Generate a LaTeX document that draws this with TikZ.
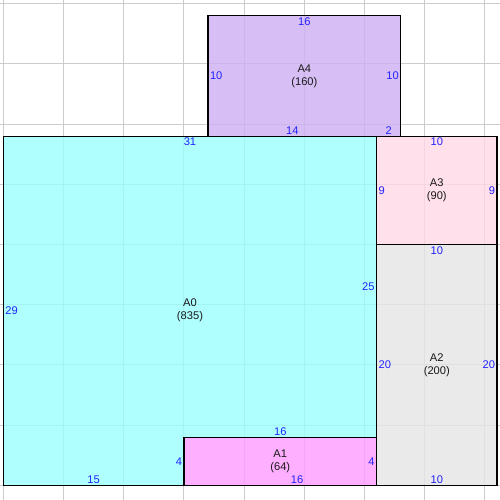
\documentclass[tikz,border=0pt]{standalone}
\usepackage{fontspec}
\setmainfont{Liberation Sans}
\usepackage{tikz}

\definecolor{lenblue}{RGB}{35,35,255}
\definecolor{roomcyan}{RGB}{156,255,255}
\definecolor{roommagenta}{RGB}{255,156,255}
\definecolor{roomgray}{RGB}{229,229,229}
\definecolor{roompink}{RGB}{255,217,231}
\definecolor{roomlilac}{RGB}{206,174,243}

\begin{document}
\begin{tikzpicture}[x=.3cm, y=.3cm,
    len/.style={text=lenblue, inner sep=1.2pt, font=\fontsize{7.9}{9.2}\selectfont},
    room/.style={align=center, inner sep=0pt, text=black!90, font=\fontsize{7.9}{9.2}\selectfont},
    wall/.style={draw=black, line width=.8pt},
    area/.style={fill opacity=.8}]
             \useasboundingbox (-0.28, -1.22) rectangle (41.25, 40.31);
             \fill[white] (-0.28, -1.22) rectangle (41.25, 40.31);
             \draw[black!20, line width=.7pt, step=5] (-1, -2) grid (42, 41);

             % A4
             \fill[roomlilac, area] (17, 29) rectangle (33, 39);
             \draw[wall] (17, 29) rectangle (33, 39);
             % A3
             \fill[roompink, area] (31, 20) rectangle (41, 29);
             \draw[wall] (31, 20) rectangle (41, 29);
             % A2
             \fill[roomgray, area] (31, 0) rectangle (41, 20);
             \draw[wall] (31, 0) rectangle (41, 20);
             % A1
             \fill[roommagenta, area] (15, 0) rectangle (31, 4);
             \draw[wall] (15, 0) rectangle (31, 4);
             % A0
             \fill[roomcyan, area] (0, 0) -- (0, 29) -- (31, 29) -- (31, 4) -- (15, 4) -- (15, 0) -- cycle;
             \draw[wall] (0, 0) -- (0, 29) -- (31, 29) -- (31, 4) -- (15, 4) -- (15, 0) -- cycle;

             % names
             \node[room] (a0) at (15.5, 14.5) {A0\\(835)};
             \node[room] (a1) at (23, 2) {A1\\(64)};
             \node[room] (a2) at (36, 10) {A2\\(200)};
             \node[room] (a3) at (36, 24.5) {A3\\(90)};
             \node[room] (a4) at (25, 34) {A4\\(160)};

             % A0 sides
             \node[len, anchor=north] (a0top) at (15.5, 29) {31};
             \node[len, anchor=west] (a0left) at (0, 14.5) {29};
             \node[len, anchor=south] (a0bot) at (7.5, 0) {15};
             \node[len, anchor=east] (a0notch) at (15, 2) {4};
             \node[len, anchor=south] (a0step) at (23, 4) {16};
             \node[len, anchor=east] (a0right) at (31, 16.5) {25};

             % A1 sides
             \node[len, anchor=south] (a1bot) at (24.4, 0) {16};
             \node[len, anchor=east] (a1right) at (31, 2) {4};

             % A2 sides
             \node[len, anchor=north] (a2top) at (36, 20) {10};
             \node[len, anchor=west] (a2left) at (31, 10) {20};
             \node[len, anchor=east] (a2right) at (41, 10) {20};
             \node[len, anchor=south] (a2bot) at (36, 0) {10};

             % A3 sides
             \node[len, anchor=north] (a3top) at (36, 29) {10};
             \node[len, anchor=west] (a3left) at (31, 24.5) {9};
             \node[len, anchor=east] (a3right) at (41, 24.5) {9};

             % A4 sides
             \node[len, anchor=north] (a4top) at (25, 39) {16};
             \node[len, anchor=west] (a4left) at (17, 34) {10};
             \node[len, anchor=east] (a4right) at (33, 34) {10};
             \node[len, anchor=south] (a4bot) at (24, 29) {14};
             \node[len, anchor=south] (a4over) at (32, 29) {2};
\end{tikzpicture}
\end{document}
